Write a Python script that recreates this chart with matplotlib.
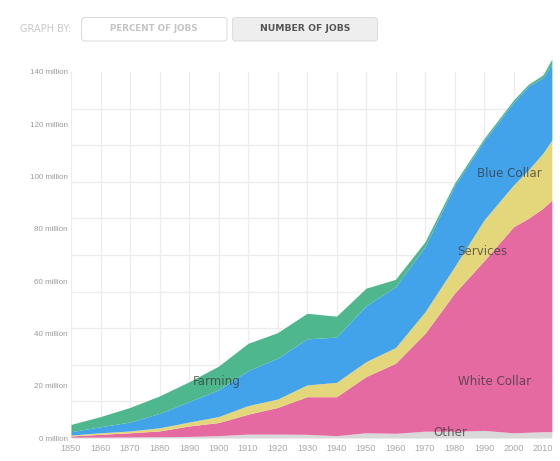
import matplotlib
matplotlib.use("Agg")
import matplotlib.pyplot as plt
from matplotlib.patches import FancyBboxPatch
from matplotlib.ticker import FixedLocator

# jobs by sector, millions
years = [1850, 1860, 1870, 1880, 1890, 1900, 1910, 1920, 1930, 1940,
         1950, 1960, 1970, 1980, 1990, 2000, 2005, 2010, 2013]
other = [0.3, 0.35, 0.4, 0.5, 0.6, 0.9, 1.5, 1.5, 1.4, 0.9,
         2.0, 1.8, 2.6, 2.6, 2.9, 2.0, 2.2, 2.4, 2.4]
white_collar = [0.47, 1.05, 1.6, 2.2, 4.0, 5.0, 7.6, 10.2, 14.4, 14.9,
                21.5, 26.8, 37.4, 52.8, 64.9, 78.8, 81.8, 85.5, 88.6]
services = [0.38, 0.6, 0.7, 1.2, 1.5, 2.3, 3.3, 3.2, 4.5, 5.5,
            5.7, 6.0, 8.3, 10.1, 15.6, 16.0, 18.5, 21.1, 23.0]
blue_collar = [1.25, 2.3, 3.4, 5.5, 7.8, 10.2, 13.4, 15.6, 17.6, 17.3,
               21.4, 23.2, 24.9, 31.0, 30.3, 31.5, 32.0, 28.8, 29.0]
farming = [2.8, 3.9, 5.6, 6.7, 7.6, 9.1, 10.4, 9.8, 9.8, 8.0,
           6.7, 2.9, 1.9, 1.0, 0.9, 1.0, 0.8, 1.1, 2.0]

series = [other, white_collar, services, blue_collar, farming]
colors = ['#d9d9d9', '#e46aa1', '#e4d77b', '#42a3ea', '#4fb78e']

labels = ['Other', 'White Collar', 'Services', 'Blue Collar', 'Farming']
label_pos = [(1978.6, 2.2), (1993.5, 21.5), (1989.5, 71.3), (1998.6, 101.3), (1899.3, 21.5)]

fig = plt.figure(figsize=(5.6, 4.61), dpi=100)
ax = fig.add_axes([71 / 560, 23 / 461, 481 / 560, 366 / 461])

# stack the layers
base = [0.0] * len(years)
for vals, c in zip(series, colors):
    top = [b + v for b, v in zip(base, vals)]
    ax.fill_between(years, base, top, color=c, lw=0, zorder=2, clip_on=False)
    base = top

ax.set_xlim(1850, 2013.05)
ax.set_ylim(0, 140)

# gridlines every 14M, labels every 20M
ax.yaxis.set_major_locator(FixedLocator(range(0, 141, 20)))
ax.yaxis.set_minor_locator(FixedLocator(range(0, 141, 14)))
ax.set_yticklabels(['%d million' % v for v in range(0, 141, 20)])
ax.xaxis.set_major_locator(FixedLocator(range(1850, 2011, 10)))
ax.grid(True, which='minor', axis='y', color='#ececec', lw=0.9, zorder=0)
ax.grid(True, which='major', axis='x', color='#ececec', lw=0.9, zorder=0)
ax.tick_params(which='both', length=0)
ax.tick_params(axis='y', pad=2.5, labelsize=5.8, labelcolor='#9a9a9a')
ax.tick_params(axis='x', pad=4.5, labelsize=6.6, labelcolor='#a8a8a8')
for lab in ax.get_xticklabels() + ax.get_yticklabels():
    lab.set_family('Liberation Sans')
for s in ax.spines.values():
    s.set_visible(False)

for name, (lx, ly) in zip(labels, label_pos):
    ax.text(lx, ly, name, ha='center', va='center', fontsize=8.6,
            color='#333333', alpha=0.7, zorder=5)

# header buttons
fig.text(20 / 560, 1 - 28.5 / 461, 'GRAPH BY:', fontsize=7, color='#c8c8c8',
         va='center', ha='left')
b1 = FancyBboxPatch((81.5, 461 - 41), 145.5, 23.5, boxstyle='round,pad=0,rounding_size=3',
                    transform=None, fc='white', ec='#dddddd', lw=0.8)
b2 = FancyBboxPatch((232.5, 461 - 41), 145, 23.5, boxstyle='round,pad=0,rounding_size=3',
                    transform=None, fc='#eeeeee', ec='#dddddd', lw=0.8)
fig.patches.extend([b1, b2])
fig.text(154 / 560, 1 - 28.5 / 461, 'PERCENT OF JOBS', fontsize=6.3, color='#c4c4c4',
         weight='bold', ha='center', va='center')
fig.text(305 / 560, 1 - 28.5 / 461, 'NUMBER OF JOBS', fontsize=6.7, color='#555555',
         weight='bold', ha='center', va='center')

fig.savefig('out.png', dpi=100)
